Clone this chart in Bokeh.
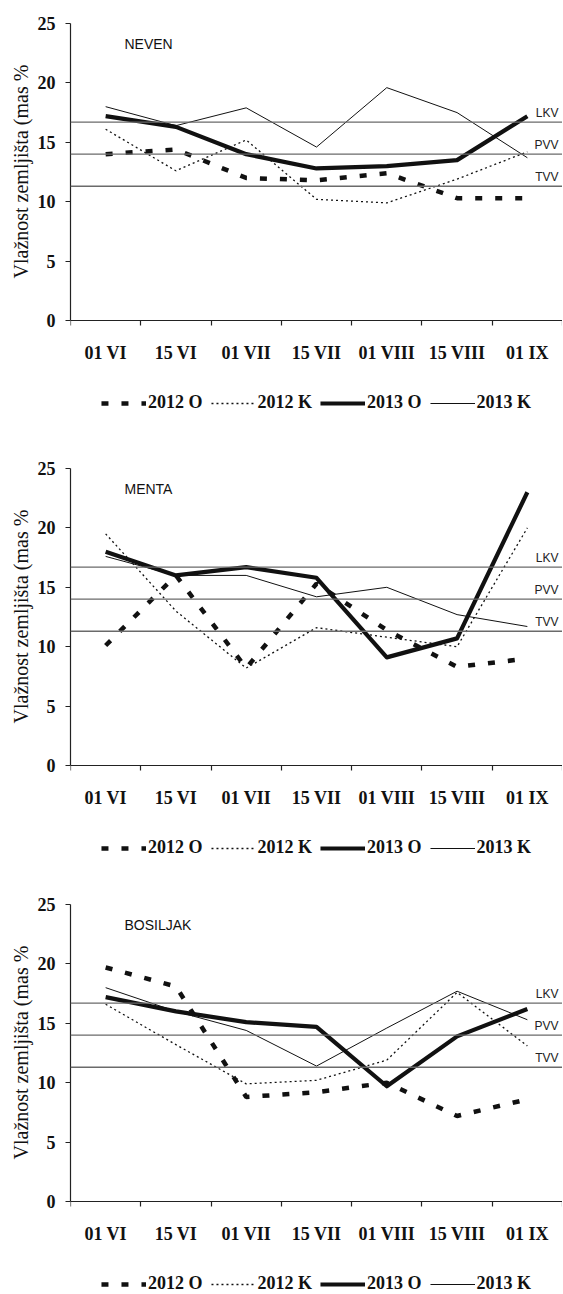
from bokeh.plotting import figure
from bokeh.layouts import column
from bokeh.models import Range1d, FixedTicker, Span, Legend, LegendItem, Title
from bokeh.embed import file_html
from bokeh.resources import INLINE
from bokeh.core.properties import value

# ---------------- data ----------------
cats = ["01 VI", "15 VI", "01 VII", "15 VII", "01 VIII", "15 VIII", "01 IX"]
y_ticks = [0, 5, 10, 15, 20, 25]
y_max = 25
ref_names = ["LKV", "PVV", "TVV"]
ref_vals = [16.7, 14.0, 11.3]
series_names = ["2012 O", "2012 K", "2013 O", "2013 K"]
panel_titles = ["NEVEN", "MENTA", "BOSILJAK"]
y_label = "Vlažnost zemljišta (mas %"

neven_2012_O = [14.0, 14.4, 12.0, 11.8, 12.4, 10.3, 10.3]
neven_2012_K = [16.1, 12.6, 15.2, 10.2, 9.9, 11.9, 14.2]
neven_2013_O = [17.2, 16.3, 14.0, 12.8, 13.0, 13.5, 17.2]
neven_2013_K = [18.0, 16.4, 17.9, 14.6, 19.6, 17.5, 13.7]

menta_2012_O = [10.1, 16.0, 8.2, 15.3, 11.4, 8.3, 9.0]
menta_2012_K = [19.5, 13.0, 8.2, 11.6, 10.8, 10.0, 20.0]
menta_2013_O = [18.0, 16.0, 16.7, 15.8, 9.1, 10.7, 23.0]
menta_2013_K = [17.6, 16.0, 16.0, 14.2, 15.0, 12.7, 11.7]

bos_2012_O = [19.7, 18.1, 8.8, 9.2, 10.0, 7.2, 8.6]
bos_2012_K = [16.6, 13.2, 9.9, 10.2, 11.9, 17.6, 13.1]
bos_2013_O = [17.2, 16.0, 15.1, 14.7, 9.7, 13.9, 16.2]
bos_2013_K = [18.0, 16.0, 14.4, 11.4, 14.6, 17.7, 15.3]

# ---------------- styles / layout ----------------
styles = [
    dict(line_width=4.5, line_dash="7 13", line_cap="butt"),
    dict(line_width=1.3, line_dash="2 3"),
    dict(line_width=4.2, line_join="round"),
    dict(line_width=1.0),
]
SERIF = "Liberation Serif"
SANS = "Liberation Sans"
PLOT_H = 297      # pixel height of the 0..25 region
EXTRA_H = 93      # room below the x axis for tick labels and legend
YLABEL_LIFT = 135  # distance from frame bottom to start of the y label


def make_panel(title, series, min_top, min_bottom):
    n = len(cats)
    y_low = -EXTRA_H * y_max / PLOT_H
    p = figure(frame_width=492, frame_height=PLOT_H + EXTRA_H,
               min_border_left=70, min_border_right=0,
               min_border_top=min_top, min_border_bottom=min_bottom,
               x_range=Range1d(0, n), y_range=Range1d(y_low, y_max),
               output_backend="svg", toolbar_location=None, tools="")
    p.outline_line_color = None
    p.xgrid.visible = False
    p.ygrid.visible = False
    p.background_fill_color = "white"
    p.border_fill_color = "white"

    centers = [i + 0.5 for i in range(n)]
    bounds = list(range(n + 1))

    # x axis, pinned at y = 0
    p.xaxis.fixed_location = 0
    p.xaxis.ticker = FixedTicker(ticks=centers, minor_ticks=bounds)
    p.xaxis.major_label_overrides = {c: lab for c, lab in zip(centers, cats)}
    p.xaxis.major_tick_out = 0
    p.xaxis.major_tick_in = 0
    p.xaxis.minor_tick_out = 5
    p.xaxis.minor_tick_in = 0
    p.xaxis.major_label_standoff = 17
    p.xaxis.major_label_text_font = SERIF
    p.xaxis.major_label_text_font_style = "bold"
    p.xaxis.major_label_text_font_size = "18px"
    p.xaxis.major_label_text_color = "#111111"
    p.xaxis.axis_line_color = "#222222"
    p.xaxis.axis_line_width = 1.2
    p.xaxis.minor_tick_line_color = "#222222"
    p.xaxis.minor_tick_line_width = 1.2

    # y axis, drawn only over 0..25
    p.yaxis.bounds = (y_ticks[0], y_max)
    p.yaxis.ticker = FixedTicker(ticks=y_ticks)
    p.yaxis.major_tick_out = 5
    p.yaxis.major_tick_in = 0
    p.yaxis.minor_tick_out = 0
    p.yaxis.minor_tick_in = 0
    p.yaxis.major_label_standoff = 10
    p.yaxis.major_label_text_font = SERIF
    p.yaxis.major_label_text_font_style = "bold"
    p.yaxis.major_label_text_font_size = "18px"
    p.yaxis.major_label_text_color = "#111111"
    p.yaxis.axis_line_color = "#222222"
    p.yaxis.axis_line_width = 1.2
    p.yaxis.major_tick_line_color = "#222222"
    p.yaxis.major_tick_line_width = 1.2

    # y label as a left-side title, placed over the 0..25 part of the axis
    p.add_layout(Title(text=y_label, align="left", offset=YLABEL_LIFT,
                       standoff=5, text_font=SERIF, text_font_style="normal",
                       text_font_size="20px", text_color="#111111"), "left")

    # reference lines
    for v in ref_vals:
        p.add_layout(Span(location=v, dimension="width",
                          line_color="#6a6a6a", line_width=1.3))
    p.text(x=[n] * len(ref_vals), y=ref_vals, text=ref_names,
           text_align="right", text_baseline="bottom",
           x_offset=-4, y_offset=-2,
           text_font=value(SANS), text_font_size="12px", text_color="#222222")

    # panel title
    p.text(x=[0], y=[y_max], text=[title], x_offset=54, y_offset=12,
           text_baseline="top", text_align="left",
           text_font=value(SANS), text_font_size="14px", text_color="#111111")

    # series
    items = []
    for name, ys, st in zip(series_names, series, styles):
        r = p.line(centers, ys, line_color="#111111", **st)
        items.append(LegendItem(label=name, renderers=[r]))

    leg = Legend(items=items, orientation="horizontal", location="bottom_center",
                 label_text_font=SERIF, label_text_font_style="bold",
                 label_text_font_size="18px", label_text_color="#111111",
                 glyph_width=45, glyph_height=16, label_height=18,
                 label_standoff=2, spacing=8, padding=0, margin=0,
                 border_line_alpha=0, background_fill_alpha=0)
    p.add_layout(leg)
    return p


p1 = make_panel(panel_titles[0],
                [neven_2012_O, neven_2012_K, neven_2013_O, neven_2013_K],
                23, 40)
p2 = make_panel(panel_titles[1],
                [menta_2012_O, menta_2012_K, menta_2013_O, menta_2013_K],
                15, 32)
p3 = make_panel(panel_titles[2],
                [bos_2012_O, bos_2012_K, bos_2013_O, bos_2013_K],
                14, 0)

layout = column(p1, p2, p3, spacing=0)
open("out.html", "w").write(file_html(layout, INLINE))
